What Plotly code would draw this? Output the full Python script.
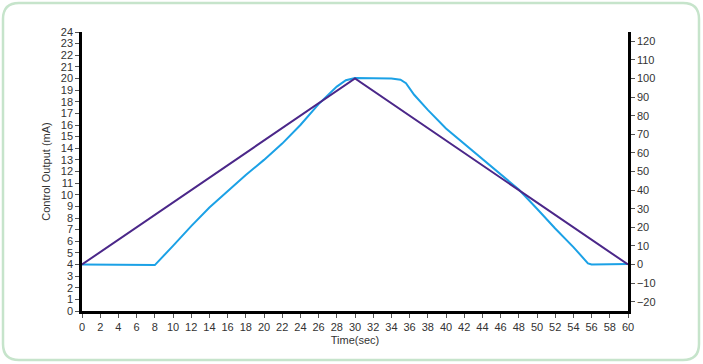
import plotly.graph_objects as go

# Data
time_ramp = [0, 30, 60]
ramp_ma = [4, 20, 4]

time_out = [0, 2, 4, 6, 8, 10, 12, 14, 16, 18, 20, 22, 24, 26, 28, 29, 30, 32, 34, 35, 35.6,
            36.5, 38, 40, 42, 44, 46, 48, 50, 52, 54, 55.6, 56, 58, 60]
output_ma = [4.0, 3.99, 3.98, 3.97, 3.95, 5.6, 7.3, 8.9, 10.3, 11.7, 13.0, 14.4, 16.0, 17.8, 19.3,
             19.85, 20.05, 20.03, 20.0, 19.9, 19.6, 18.6, 17.3, 15.7, 14.4, 13.1, 11.8, 10.45,
             8.8, 7.1, 5.5, 4.1, 4.0, 4.02, 4.05]

x_ticks = list(range(0, 61, 2))
left_ticks = list(range(0, 25))
right_ticks = list(range(-20, 121, 10))

FONT = "Liberation Sans, Arial, sans-serif"
TXT = "#333333"

fig = go.Figure()
fig.add_trace(go.Scatter(x=time_out, y=output_ma, mode="lines",
                         line=dict(color="#1ba1e6", width=2), showlegend=False, hoverinfo="skip"))
fig.add_trace(go.Scatter(x=time_ramp, y=ramp_ma, mode="lines",
                         line=dict(color="#4b2789", width=2), showlegend=False, hoverinfo="skip"))
# invisible trace to activate right axis
fig.add_trace(go.Scatter(x=[0, 60], y=[0, 0], yaxis="y2", mode="lines",
                         line=dict(width=0, color="rgba(0,0,0,0)"), showlegend=False, hoverinfo="skip"))

axis_common = dict(showgrid=False, zeroline=False, showline=True, linecolor="black", linewidth=2.5,
                   ticks="outside", ticklen=4, tickwidth=1, tickcolor="#555555",
                   tickfont=dict(family=FONT, size=11, color=TXT))

W, H = 703, 364
ML, MR, MT, MB = 82, 75, 32, 53

fig.update_layout(
    width=W, height=H,
    margin=dict(l=ML, r=MR, t=MT, b=MB),
    paper_bgcolor="white", plot_bgcolor="white",
    xaxis=dict(range=[0, 60], tickvals=x_ticks, ticktext=[str(v) for v in x_ticks],
               title=dict(text="Time(sec)", font=dict(family=FONT, size=11, color=TXT), standoff=5),
               **axis_common),
    yaxis=dict(range=[0, 24], tickvals=left_ticks,
               title=dict(text="Control Output (mA)", font=dict(family=FONT, size=11, color=TXT), standoff=8),
               **axis_common),
    yaxis2=dict(range=[-25, 125], tickvals=right_ticks,
                ticktext=[("\u2212" + str(-v)) if v < 0 else str(v) for v in right_ticks],
                overlaying="y", side="right", **axis_common),
)

# rounded outer frame
pw, ph = W - ML - MR, H - MT - MB
def px(x):
    return (x - ML) / pw
def py(y):
    return (H - MB - y) / ph
x0, y0, x1, y1, r = 3, 3, 699, 360, 16
path = (f"M {px(x0 + r)},{py(y0)} L {px(x1 - r)},{py(y0)} "
        f"Q {px(x1)},{py(y0)} {px(x1)},{py(y0 + r)} L {px(x1)},{py(y1 - r)} "
        f"Q {px(x1)},{py(y1)} {px(x1 - r)},{py(y1)} L {px(x0 + r)},{py(y1)} "
        f"Q {px(x0)},{py(y1)} {px(x0)},{py(y1 - r)} L {px(x0)},{py(y0 + r)} "
        f"Q {px(x0)},{py(y0)} {px(x0 + r)},{py(y0)} Z")
fig.update_layout(shapes=[dict(type="path", xref="paper", yref="paper", path=path,
                               line=dict(color="#c6e4cb", width=2.5), layer="below")])

fig.write_html("out.html", config={"displayModeBar": False},
               post_script="document.body.style.margin='0px';document.body.style.overflow='hidden';")
